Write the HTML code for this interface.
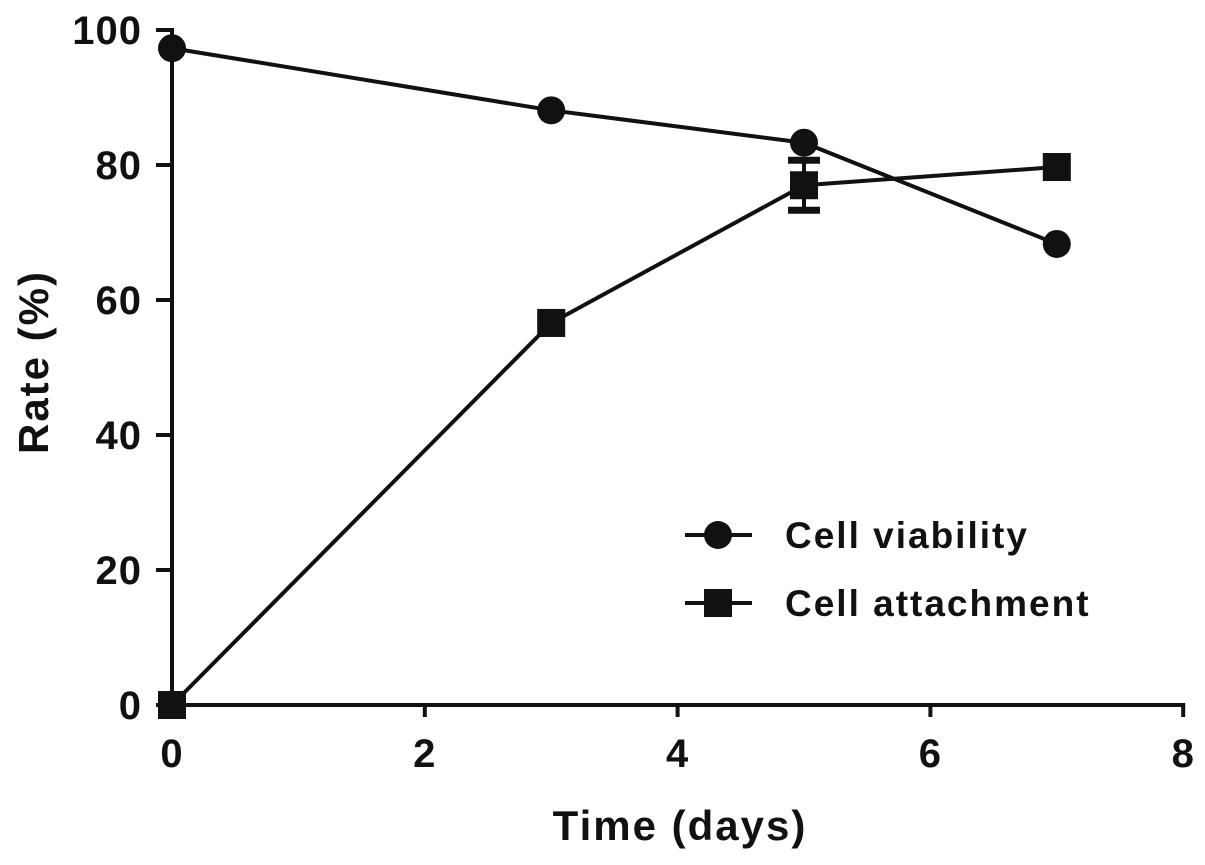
<!DOCTYPE html>
<html><head><meta charset="utf-8"><style>
body{margin:0;background:#fff}
text{font-family:"Liberation Sans",Arial,sans-serif;font-weight:bold;fill:#111}
</style></head><body>
<svg id="c" width="1205" height="860" xmlns="http://www.w3.org/2000/svg"></svg>
<script>
const days=[0,3,5,7];
const viability=[97.3,88.1,83.3,68.3];
const viabilityErr=[0,0,0,0];
const attachment=[0,56.6,77,79.7];
const attachmentErr=[0,0,3.7,0];
const xTicks=[0,2,4,6,8];
const yTicks=[0,20,40,60,80,100];
const NS="http://www.w3.org/2000/svg";
const svg=document.getElementById('c');
const X=v=>172+v*126.4;
const Y=v=>705-v*6.75;
function mk(t,a,p){const e=document.createElementNS(NS,t);for(const k in a)e.setAttribute(k,a[k]);(p||svg).appendChild(e);return e;}
const ax=mk('g',{});


mk('line',{x1:X(0),y1:Y(0),x2:X(8)+2,y2:Y(0),stroke:'#111','stroke-width':4},ax);
mk('line',{x1:X(0),y1:Y(0),x2:X(0),y2:Y(100)-2,stroke:'#111','stroke-width':4},ax);
xTicks.forEach(t=>{
 mk('line',{x1:X(t),y1:Y(0),x2:X(t),y2:Y(0)+12,stroke:'#111','stroke-width':4},ax);
 const tx=mk('text',{x:X(t),y:Y(0)+62,'font-size':40,'text-anchor':'middle','letter-spacing':1},ax);tx.textContent=t;
 
 
});
yTicks.forEach(t=>{
 mk('line',{x1:X(0)-16,y1:Y(t),x2:X(0),y2:Y(t),stroke:'#111','stroke-width':4},ax);
 const tx=mk('text',{x:X(0)-30,y:Y(t)+14,'font-size':40,'text-anchor':'end','letter-spacing':1},ax);tx.textContent=t;
 
 
});
const xt=mk('text',{x:680,y:840,'font-size':42,'text-anchor':'middle','letter-spacing':2});xt.textContent='Time (days)';


const yt=mk('text',{x:0,y:0,'font-size':42,'text-anchor':'middle','letter-spacing':2,transform:'translate(48,362) rotate(-90)'});yt.textContent='Rate (%)';


function series(vals,errs,shape,name){
 const g=mk('g',{});
 
 
 mk('polyline',{points:days.map((d,i)=>X(d)+','+Y(vals[i])).join(' '),fill:'none',stroke:'#111','stroke-width':4},g);
 days.forEach((d,i)=>{
  const x=X(d),y=Y(vals[i]);
  if(errs[i]>0){
   mk('line',{x1:x,y1:Y(vals[i]+errs[i]),x2:x,y2:Y(vals[i]-errs[i]),stroke:'#111','stroke-width':4},g);
   [vals[i]+errs[i],vals[i]-errs[i]].forEach(v=>mk('line',{x1:x-16,y1:Y(v),x2:x+16,y2:Y(v),stroke:'#111','stroke-width':7},g));
  }
  const m=shape==='circle'?mk('circle',{cx:x,cy:y,r:14,fill:'#111'},g):mk('rect',{x:x-14,y:y-14,width:28,height:28,fill:'#111'},g);
  
  
 });
}
series(attachment,attachmentErr,'square','cell-attachment-series');
series(viability,viabilityErr,'circle','cell-viability-series');
function leg(y,shape,label,name){
 const g=mk('g',{});
 
 
 mk('line',{x1:685,y1:y,x2:752,y2:y,stroke:'#111','stroke-width':4},g);
 if(shape==='circle')mk('circle',{cx:718,cy:y,r:14,fill:'#111'},g);else mk('rect',{x:704,y:y-14,width:28,height:28,fill:'#111'},g);
 const t=mk('text',{x:785,y:y+13,'font-size':37,'letter-spacing':2},g);t.textContent=label;
}
leg(535,'circle','Cell viability','legend-entry-viability');
leg(603,'square','Cell attachment','legend-entry-attachment');
</script>
</body></html>
